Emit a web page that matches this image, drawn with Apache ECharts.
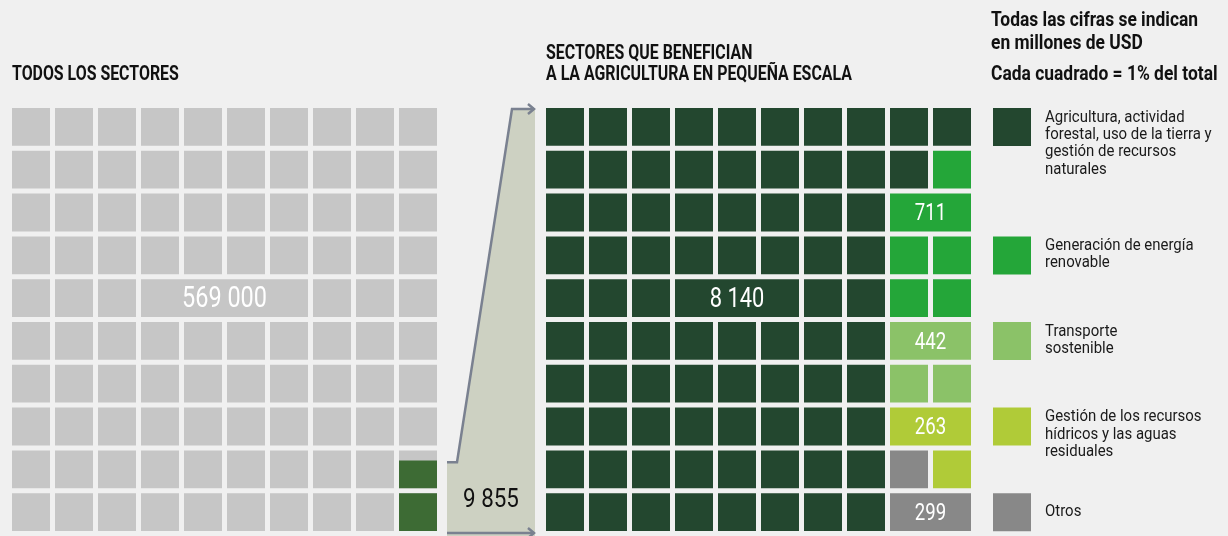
<!DOCTYPE html>
<html><head><meta charset="utf-8">
<script src="https://cdn.jsdelivr.net/npm/echarts@6/dist/echarts.min.js"></script>
<style>html,body{margin:0;padding:0;background:#f0f0f0}#c{width:1228px;height:536px}</style>
</head><body><div id="c"></div>
<script>
// ---------- DATA ----------
const categories = [
  'Agricultura, actividad\nforestal, uso de la tierra y\ngestión de recursos\nnaturales',
  'Generación de energía\nrenovable',
  'Transporte\nsostenible',
  'Gestión de los recursos\nhídricos y las aguas\nresiduales',
  'Otros'
];
const values = [8140, 711, 442, 263, 299];          // millones de USD
const totalAll = 569000;                             // todos los sectores
const subsetTotal = 9855;                            // sectores que benefician a la agricultura en pequeña escala
const titleAll = 'TODOS LOS SECTORES';
const titleSubset = 'SECTORES QUE BENEFICIAN\nA LA AGRICULTURA EN PEQUEÑA ESCALA';
const noteUnits = 'Todas las cifras se indican\nen millones de USD';
const noteSquare = 'Cada cuadrado = 1% del total';

// ---------- STYLE ----------
const catColors = ['#23472f', '#24a639', '#8bc268', '#b0cb38', '#888888'];
const allColor = '#c6c6c6', subsetColor = '#3d6b34';
const FONT = "Roboto, 'Liberation Sans', sans-serif";
const SX_TITLE = 0.815, SX_NOTE = 0.85, SX_TEXT = 0.88, SX_NUM = 0.81;
const GAP = 5, PITCH = 43, CELL = 38, TOP = 108;
const GRID_LEFT = [12, 546, 993];
const legendRows = [0, 3, 5, 7, 9];

function fmt(n) { return String(n).replace(/\B(?=(\d{3})+(?!\d))/g, ' '); }

// ---------- LEFT WAFFLE ----------
const subsetSquares = subsetTotal / totalAll * 100;
const leftMatrix = [];
for (let r = 0; r < 10; r++) {
  leftMatrix.push([]);
  for (let c = 0; c < 10; c++) {
    const k = c === 9 ? 9 - r : 99;
    leftMatrix[r].push({ cat: 0, frac: Math.max(0, Math.min(1, subsetSquares - k)) });
  }
}
const leftMerges = [{ r: 4, c: 3, span: 4, label: fmt(totalAll), fontSize: 29 }];

// ---------- RIGHT WAFFLE ----------
const squares = values.map(v => Math.round(v / subsetTotal * 100));
const rightMatrix = [];
for (let r = 0; r < 10; r++) { rightMatrix.push([]); for (let c = 0; c < 10; c++) rightMatrix[r].push({ cat: 0, frac: 0 }); }
const band = [];
for (let r = 1; r < 10; r++) for (const c of [9, 8]) if (!(r === 1 && c === 8)) band.push([r, c]);
let bi = 0;
for (let k = 1; k < values.length; k++) for (let n = 0; n < squares[k]; n++) { const [r, c] = band[bi++]; rightMatrix[r][c].cat = k; }
const rightMerges = [{ r: 4, c: 3, span: 3, label: fmt(values[0]), fontSize: 27 }];
for (let k = 1; k < values.length; k++) {
  for (let r = 0; r < 10; r++) {
    if (rightMatrix[r][8].cat === k && rightMatrix[r][9].cat === k) { rightMerges.push({ r, c: 8, span: 2, label: fmt(values[k]), fontSize: 23 }); break; }
  }
}

function buildCells(matrix, merges) {
  const covered = new Set();
  merges.forEach(m => { for (let i = 0; i < m.span; i++) covered.add(m.r * 10 + m.c + i); });
  const out = [];
  for (let r = 0; r < 10; r++) for (let c = 0; c < 10; c++) {
    if (covered.has(r * 10 + c)) continue;
    const cell = matrix[r][c];
    out.push({ value: [c, r, 1, cell.cat, cell.frac], label: '' });
  }
  merges.forEach(m => out.push({ value: [m.c, m.r, m.span, matrix[m.r][m.c].cat, 0], label: m.label, fontSize: m.fontSize }));
  return out;
}
const leftData = buildCells(leftMatrix, leftMerges);
const rightData = buildCells(rightMatrix, rightMerges);

function makeRender(data, palette, overlay) {
  return function (params, api) {
    const d = data[params.dataIndex];
    const c = api.value(0), r = api.value(1), span = api.value(2), cat = api.value(3), frac = api.value(4);
    const p0 = api.coord([c, r]), p1 = api.coord([c + span, r + 1]);
    const w = p1[0] - p0[0] - GAP, h = p1[1] - p0[1] - GAP;
    const ch = [{ type: 'rect', shape: { x: p0[0], y: p0[1], width: w, height: h }, style: { fill: palette[cat] } }];
    if (frac > 0) ch.push({ type: 'rect', shape: { x: p0[0], y: p0[1] + h * (1 - frac), width: w, height: h * frac }, style: { fill: overlay } });
    if (d.label) ch.push({ type: 'text', x: p0[0] + w / 2, y: p0[1] + h / 2 + 2, scaleX: SX_NUM,
      style: { text: d.label, fill: '#ffffff', fontSize: d.fontSize, fontFamily: FONT, align: 'center', verticalAlign: 'middle' } });
    return { type: 'group', children: ch };
  };
}

const legendData = categories.map((name, i) => ({ value: [0, legendRows[i], i], name }));
function renderLegend(params, api) {
  const i = params.dataIndex;
  const p0 = api.coord([0, api.value(1)]);
  const name = categories[i];
  const lines = name.split('\n').length;
  const fs = 17, lh = 17.4;
  const firstBase = lines > 1 ? p0[1] + 15.5 : p0[1] + CELL / 2 + 0.36 * fs;
  const center = firstBase + (lines - 1) * lh / 2 - 0.36 * fs;
  return { type: 'group', children: [
    { type: 'rect', shape: { x: p0[0], y: p0[1], width: CELL, height: CELL }, style: { fill: catColors[api.value(2)] } },
    { type: 'text', x: p0[0] + 52, y: center, scaleX: SX_TEXT, style: { text: name, fill: '#1a1a1a', fontSize: fs, lineHeight: lh, fontFamily: FONT, align: 'left', verticalAlign: 'middle' } }
  ] };
}

// connector geometry, derived from the waffle layout
const leftEdge = GRID_LEFT[0] + 9 * PITCH + CELL;
const rowTop9 = TOP + 8 * PITCH;
const cornerY = rowTop9 + CELL * (1 - (subsetSquares - 1));
const bottomY = TOP + 9 * PITCH + CELL;
const cx0 = leftEdge + 10, cx1 = cx0 + 10, rx = GRID_LEFT[1] - 11, dx = rx - 23;
const lineStyle = { stroke: '#7a8190', lineWidth: 2.5, fill: null, lineJoin: 'miter' };

function title(text, x, y, fs, lh, sx) {
  return { type: 'text', x, y, scaleX: sx, style: { text, fontSize: fs, lineHeight: lh, fontWeight: 'bold', fontFamily: FONT, fill: '#111', verticalAlign: 'middle' } };
}

const axisBase = { show: false, min: 0, max: 10 };
const option = {
  backgroundColor: '#f0f0f0',
  animation: false,
  grid: [
    { left: GRID_LEFT[0], top: TOP, width: PITCH * 10, height: PITCH * 10 },
    { left: GRID_LEFT[1], top: TOP, width: PITCH * 10, height: PITCH * 10 },
    { left: GRID_LEFT[2], top: TOP, width: PITCH, height: PITCH * 10 }
  ],
  xAxis: [
    Object.assign({ type: 'value', gridIndex: 0 }, axisBase),
    Object.assign({ type: 'value', gridIndex: 1 }, axisBase),
    { type: 'value', gridIndex: 2, show: false, min: 0, max: 1 }
  ],
  yAxis: [
    Object.assign({ type: 'value', gridIndex: 0, inverse: true }, axisBase),
    Object.assign({ type: 'value', gridIndex: 1, inverse: true }, axisBase),
    Object.assign({ type: 'value', gridIndex: 2, inverse: true }, axisBase)
  ],
  series: [
    { type: 'custom', name: 'Todos los sectores', xAxisIndex: 0, yAxisIndex: 0, data: leftData, renderItem: makeRender(leftData, [allColor], subsetColor), silent: true },
    { type: 'custom', name: 'Sectores pequeña escala', xAxisIndex: 1, yAxisIndex: 1, data: rightData, renderItem: makeRender(rightData, catColors, null), silent: true },
    { type: 'custom', name: 'Leyenda', xAxisIndex: 2, yAxisIndex: 2, data: legendData, renderItem: renderLegend, silent: true }
  ],
  graphic: [
    title(titleAll, GRID_LEFT[0], 75, 19.5, 21, SX_TITLE),
    title(titleSubset, GRID_LEFT[1], 64.5, 19.5, 21.5, SX_TITLE),
    title(noteUnits, 991, 32, 20.5, 23, SX_NOTE),
    title(noteSquare, 991, 74.5, 20.5, 23, SX_NOTE),
    { type: 'polygon', shape: { points: [[cx0, cornerY], [cx1, cornerY], [dx, TOP + 1], [rx, TOP + 1], [rx, 536], [cx0, 536]] }, style: { fill: '#cdd1c2' } },
    { type: 'polyline', shape: { points: [[cx0, cornerY], [cx1, cornerY], [dx, TOP + 1], [rx - 1, TOP + 1]] }, style: lineStyle },
    { type: 'polyline', shape: { points: [[rx - 7, TOP - 4], [rx - 1, TOP + 1], [rx - 7, TOP + 6]] }, style: lineStyle },
    { type: 'polyline', shape: { points: [[cx0, bottomY], [rx - 1, bottomY]] }, style: lineStyle },
    { type: 'polyline', shape: { points: [[rx - 7, bottomY - 5], [rx - 1, bottomY], [rx - 7, bottomY + 5]] }, style: lineStyle },
    { type: 'text', x: (cx0 + rx) / 2, y: 500, scaleX: 0.86, style: { text: fmt(subsetTotal), fontSize: 26, fontFamily: FONT, fill: '#111', align: 'center', verticalAlign: 'middle' } }
  ]
};
const chart = echarts.init(document.getElementById('c'));
chart.setOption(option);
</script></body></html>
